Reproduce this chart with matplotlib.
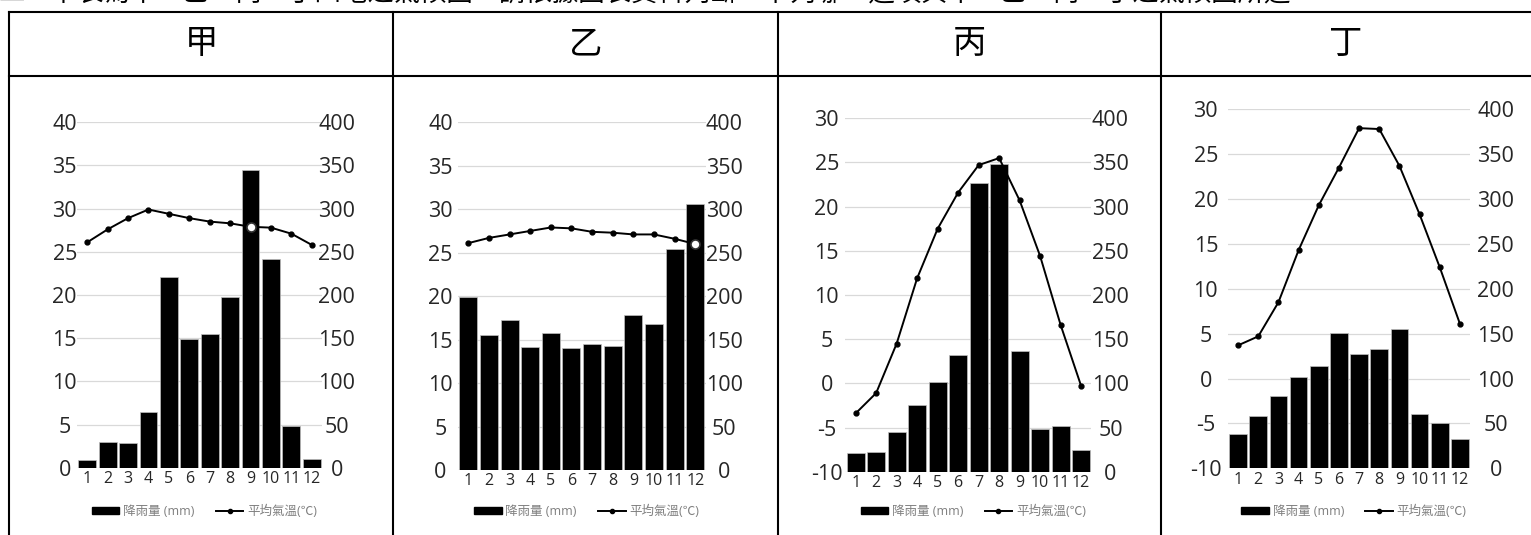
import matplotlib
matplotlib.use('Agg')
import matplotlib.pyplot as plt
from matplotlib.lines import Line2D
from matplotlib.patches import Patch

plt.rcParams['font.family'] = ['Open Sans', 'Noto Sans CJK TC', 'DejaVu Sans']
plt.rcParams['axes.unicode_minus'] = False

W, H = 1531, 535

# data
titles = ["甲", "乙", "丙", "丁"]
months = [str(m) for m in range(1, 13)]

rain_jia = [9, 30, 29, 65, 221, 149, 155, 198, 345, 242, 48, 10]
temp_jia = [26.1, 27.6, 28.9, 29.9, 29.4, 28.9, 28.5, 28.3, 27.9, 27.8, 27.1, 25.8]

rain_yi = [199, 155, 172, 141, 158, 140, 145, 143, 178, 168, 254, 306]
temp_yi = [26.1, 26.7, 27.1, 27.5, 27.9, 27.8, 27.4, 27.3, 27.1, 27.1, 26.6, 26.0]

rain_bing = [21, 22, 45, 76, 101, 132, 327, 348, 137, 48, 52, 24]
temp_bing = [-3.4, -1.1, 4.5, 11.9, 17.5, 21.6, 24.7, 25.5, 20.7, 14.4, 6.6, -0.3]

rain_ding = [38, 58, 81, 102, 114, 151, 127, 133, 155, 60, 50, 33]
temp_ding = [3.7, 4.7, 8.5, 14.3, 19.3, 23.5, 27.9, 27.8, 23.7, 18.3, 12.4, 6.1]

rains = [rain_jia, rain_yi, rain_bing, rain_ding]
temps = [temp_jia, temp_yi, temp_bing, temp_ding]
temp_limits = [(0, 40), (0, 40), (-10, 30), (-10, 30)]
rain_limit = (0, 400)
selected = [8, 11, None, None]   # point shown hollow in the original

legend_rain = "降雨量 (mm)"
legend_temp = "平均氣溫(℃)"
intro = "二、下表為甲、乙、丙、丁四地之氣候圖，請依據圖表資料判斷：下列哪一選項與甲、乙、丙、丁之氣候圖所述"

# layout in pixels
boxes = [(77, 322, 122.3, 467.7), (458, 705.5, 122.3, 470),
         (845.4, 1091.4, 118.3, 471.7), (1228, 1470, 109.3, 468.3)]
left_cx = [64.7, 440.5, 826.7, 1205.8]
right_cx = [336.7, 724.3, 1110.5, 1495.8]
col_edges = [9, 393.3, 778, 1161, 1531]

TICK_C = '#262626'
GRID_C = '#d9d9d9'
LEG_C = '#7f7f7f'

fig = plt.figure(figsize=(W / 100, H / 100), dpi=100)


def fx(px):
    return px / W


def fy(py):
    return 1 - py / H


# table frame
lw = 1.5
fig.add_artist(Line2D([fx(9), 1], [fy(12.3), fy(12.3)], color='black', lw=lw))
fig.add_artist(Line2D([fx(9), 1], [fy(76), fy(76)], color='black', lw=lw))
for xe in col_edges[:-1]:
    fig.add_artist(Line2D([fx(xe), fx(xe)], [fy(12.3), 0], color='black', lw=lw))

fig.text(fx(-2), fy(-7.5), intro, fontsize=19, color='black', ha='left', va='center',
         family=['Noto Sans CJK TC'])

for i, t in enumerate(titles):
    cx = (col_edges[i] + col_edges[i + 1]) / 2
    fig.text(fx(cx), fy(44), t, fontsize=24, ha='center', va='center',
             family=['Noto Sans CJK TC'], fontweight='light')

x = list(range(12))
for i in range(4):
    x0, x1, yt, yb = boxes[i]
    ax = fig.add_axes([fx(x0), fy(yb), fx(x1 - x0), (yb - yt) / H])
    ax2 = ax.twinx()

    # precipitation bars, right-hand axis
    ax.bar(x, rains[i], width=0.87, color='black', edgecolor='#bfbfbf', linewidth=0.5,
           zorder=2)
    ax.set_xlim(-0.5, 11.5)
    ax.set_ylim(*rain_limit)
    ax.set_yticks(range(0, 401, 50))
    ax.yaxis.tick_right()
    ax.set_axisbelow(True)
    ax.grid(True, axis='y', color=GRID_C, lw=0.9)
    ax.set_xticks(x)
    ax.set_xticklabels(months)
    ax.tick_params(axis='x', length=0, pad=2.5, labelsize=11.5, colors=TICK_C)
    ax.tick_params(axis='y', length=0, pad=(right_cx[i] - x1) * 0.72,
                   labelsize=15.5, colors=TICK_C)
    for lab in ax.get_yticklabels():
        lab.set_ha('center')
    for s in ax.spines.values():
        s.set_visible(False)

    # mean temperature line, left-hand axis
    lo, hi = temp_limits[i]
    ax2.plot(x, temps[i], color='black', lw=1.4, marker='o', markersize=3.5, zorder=3)
    if selected[i] is not None:
        k = selected[i]
        ax2.plot([x[k]], [temps[i][k]], marker='o', markersize=6.5, mfc='white',
                 mec='#333333', mew=1.2, ls='none', zorder=4)
    ax2.set_ylim(lo, hi)
    ax2.set_yticks(range(lo, hi + 1, 5))
    ax2.yaxis.tick_left()
    ax2.tick_params(axis='y', length=0, pad=(x0 - left_cx[i]) * 0.72,
                    labelsize=15.5, colors=TICK_C)
    for lab in ax2.get_yticklabels():
        lab.set_ha('center')
    for s in ax2.spines.values():
        s.set_visible(False)

    handles = [Patch(facecolor='black', edgecolor='black'),
               Line2D([], [], color='black', lw=1.4, marker='o', markersize=3)]
    ax.legend(handles, [legend_rain, legend_temp], loc='center',
              bbox_to_anchor=(0.52, -(511.5 - yb) / (yb - yt)), ncol=2, frameon=False,
              fontsize=9, labelcolor=LEG_C, handlelength=2.2, handleheight=0.45,
              handletextpad=0.3, columnspacing=1.7, borderpad=0)

fig.savefig('out.png', dpi=100)
